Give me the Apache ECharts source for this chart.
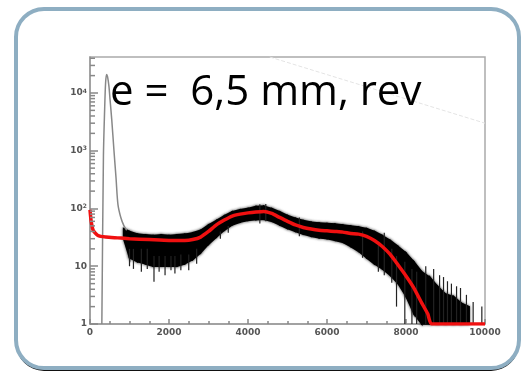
<!DOCTYPE html>
<html>
<head>
<meta charset="utf-8">
<script src="https://cdn.jsdelivr.net/npm/echarts@6/dist/echarts.min.js"></script>
<style>
  html, body { margin: 0; padding: 0; background: #fff; }
  #chart { width: 521px; height: 374px; }
</style>
</head>
<body>
<div id="chart"></div>
<script>
// fit curve (red)
const fitX = [0, 30, 80, 200, 400, 700, 1000, 1500, 2000, 2400, 2600, 2800, 3000, 3200, 3400, 3600, 3800, 4000, 4200, 4400, 4600, 4800, 5000, 5200, 5400, 5600, 5800, 6000, 6200, 6400, 6600, 6800, 7000, 7200, 7400, 7600, 7800, 8000, 8200, 8400, 8550, 8650, 10000]
const fitY = [95, 60, 42, 34, 32, 31, 30, 29, 28, 28, 29, 32, 40, 52, 63, 74, 80, 84, 87, 89, 82, 70, 60, 52, 47, 44, 42, 41, 40, 39, 37, 36, 33, 28, 22, 16, 10.5, 6.8, 4.2, 2.3, 1.5, 1, 1]

// pedestal peak (thin grey line)
const peakX = [300, 340, 370, 395, 420, 445, 480, 506, 550, 607, 660, 708, 780, 860, 930]
const peakY = [1, 800, 5000, 15000, 21000, 19000, 13000, 7900, 3500, 1000, 330, 117, 70, 50, 42]

// noisy histogram envelope (black band)
const bandX = [850, 1000, 1200, 1400, 1600, 1800, 2000, 2200, 2400, 2600, 2800, 3000, 3200, 3400, 3600, 3800, 4000, 4200, 4400, 4600, 4800, 5000, 5200, 5400, 5600, 5800, 6000, 6200, 6400, 6600, 6800, 7000, 7200, 7400, 7600, 7800, 8000, 8200, 8400, 8600, 8800, 9000, 9200, 9400, 9600]
const bandHigh = [45, 40, 36, 35, 34, 35, 34, 35, 36, 38, 42, 52, 62, 75, 88, 95, 100, 108, 110, 100, 88, 76, 68, 62, 58, 56, 55, 54, 52, 50, 48, 45, 40, 34, 28, 22, 17, 12, 8, 6.5, 4.5, 3.3, 3.0, 2.3, 2.0]
const bandLow = [30, 14, 12, 11, 10, 10, 10, 10, 11, 13, 17, 24, 32, 42, 52, 58, 62, 64, 65, 60, 52, 45, 40, 36, 33, 31, 30, 28, 26, 22, 18, 14, 11, 9, 7, 5, 3, 1.5, 1, 1, 1, 1, 1, 1, 1]

// single spikes: [x, low, high]
const spikes = [
  [1000, 10, 20], [1100, 9, 20], [1300, 8, 20], [1450, 9, 20], [1620, 5.4, 15], [1750, 8, 15], [1900, 7, 15],
  [2050, 8.5, 15], [2150, 7.5, 15], [2300, 8.5, 16], [2500, 8.5, 16], [2700, 11, 20],
  [3300, 30, 40], [3500, 38, 50], [4300, 55, 118], [4450, 60, 120], [5300, 33, 70], [6900, 14, 40],
  [7300, 8, 25], [7450, 7, 38], [7640, 5.2, 20], [7760, 2, 15], [7970, 1, 12], [8150, 1, 9], [8270, 1, 8],
  [8500, 1, 10], [8700, 1, 9], [8850, 1, 7], [8950, 1, 6.5], [9050, 1, 5.5], [9150, 1, 5], [9280, 1, 4.5],
  [9380, 1, 4.2], [9530, 1, 3.2], [9700, 1, 2.4], [9920, 1, 2]
]

// log minor ticks of the y axis
const minorY = [2, 3, 4, 5, 6, 7, 8, 9, 20, 30, 40, 50, 60, 70, 80, 90, 200, 300, 400, 500, 600, 700, 800, 900,
  2000, 3000, 4000, 5000, 6000, 7000, 8000, 9000, 20000, 30000, 40000]

const yTickLabels = { 1: '1', 10: '10', 100: '{b|10}{s|2}', 1000: '{b|10}{s|3}', 10000: '{b|10}{s|4}' }

const chart = echarts.init(document.getElementById('chart'))

const segments = []
for (let i = 0; i < bandX.length - 1; i++) {
  segments.push([bandX[i], bandHigh[i], bandLow[i], bandX[i + 1], bandHigh[i + 1], bandLow[i + 1]])
}

const labelStyle = { color: '#555', fontSize: 9, fontWeight: 'bold', fontFamily: 'DejaVu Sans' }

const option = {
  animation: false,
  backgroundColor: '#fff',
  graphic: [
    { type: 'rect', z: -10, shape: { x: 16, y: 12, width: 503, height: 359, r: 28 }, style: { fill: '#111' }, silent: true },
    { type: 'rect', z: -9, shape: { x: 16, y: 9, width: 503, height: 359, r: 28 }, style: { fill: '#fff', stroke: '#8eaec2', lineWidth: 4 }, silent: true },
    {
      type: 'text', z: 100, left: 110, top: 72,
      style: { text: 'e =  6,5 mm, rev', fill: '#000', font: '42px "Open Sans"' }
    }
  ],
  grid: {
    left: 90, right: 36, top: 57, bottom: 50,
    show: true, borderColor: '#aaa', borderWidth: 1.5, backgroundColor: 'transparent'
  },
  xAxis: {
    type: 'value', min: 0, max: 10000, interval: 2000,
    axisLine: { show: true, onZero: false, lineStyle: { color: '#999', width: 1.5 } },
    axisTick: { show: true, inside: true, length: 5, lineStyle: { color: '#888', width: 1.5 } },
    minorTick: { show: true, splitNumber: 4, length: 3, lineStyle: { color: '#888', width: 1.5 } },
    splitLine: { show: false },
    axisLabel: Object.assign({ margin: 4, formatter: v => String(v) }, labelStyle)
  },
  yAxis: {
    type: 'log', logBase: 10, min: 1, max: 42000,
    axisLine: { show: true, lineStyle: { color: '#999', width: 1.5 } },
    axisTick: { show: true, inside: true, length: 8, lineStyle: { color: '#888', width: 1.5 } },
    splitLine: { show: false },
    axisLabel: Object.assign({
      margin: 3, showMaxLabel: false,
      formatter: v => yTickLabels[Math.round(v)] || '',
      rich: {
        b: labelStyle,
        s: { color: '#555', fontSize: 6, fontWeight: 'bold', verticalAlign: 'top', padding: [0, 0, 4, 0] }
      }
    }, labelStyle)
  },
  series: [
    {
      // faint diagonal artefact
      type: 'line', data: [[4550, 42000], [10000, 3000]], showSymbol: false, silent: true,
      lineStyle: { color: '#e4e4e4', width: 1, type: 'dashed' }
    },
    {
      // log minor ticks on the y axis
      type: 'custom', data: minorY.map(v => [100, v]), clip: false, silent: true, z: 5,
      renderItem: (params, api) => {
        const p = api.coord([0, api.value(1)])
        return { type: 'rect', shape: { x: p[0], y: p[1] - 0.75, width: 5, height: 1.5 }, style: { fill: '#888' } }
      }
    },
    {
      type: 'line', data: peakX.map((x, i) => [x, peakY[i]]), showSymbol: false, smooth: 0.3,
      lineStyle: { color: '#888', width: 1.5 }
    },
    {
      type: 'custom', data: segments, silent: true,
      renderItem: (params, api) => {
        const a = api.coord([api.value(0), api.value(1)])
        const b = api.coord([api.value(3), api.value(4)])
        const c = api.coord([api.value(3), api.value(5)])
        const d = api.coord([api.value(0), api.value(2)])
        return {
          type: 'polygon', shape: { points: [a, b, c, d] },
          style: { fill: '#000', stroke: '#000', lineWidth: 1.5, shadowBlur: 3, shadowColor: 'rgba(0,0,0,0.6)' }
        }
      }
    },
    {
      type: 'custom', data: spikes, silent: true,
      renderItem: (params, api) => {
        const lo = api.coord([api.value(0), api.value(1)])
        const hi = api.coord([api.value(0), api.value(2)])
        return { type: 'line', shape: { x1: lo[0], y1: lo[1], x2: hi[0], y2: hi[1] }, style: { stroke: '#222', lineWidth: 1.2 } }
      }
    },
    {
      type: 'line', data: fitX.map((x, i) => [x, fitY[i]]), showSymbol: false, smooth: 0.2,
      lineStyle: { color: '#f01010', width: 3.5 }
    }
  ]
}

chart.setOption(option)
</script>
</body>
</html>
